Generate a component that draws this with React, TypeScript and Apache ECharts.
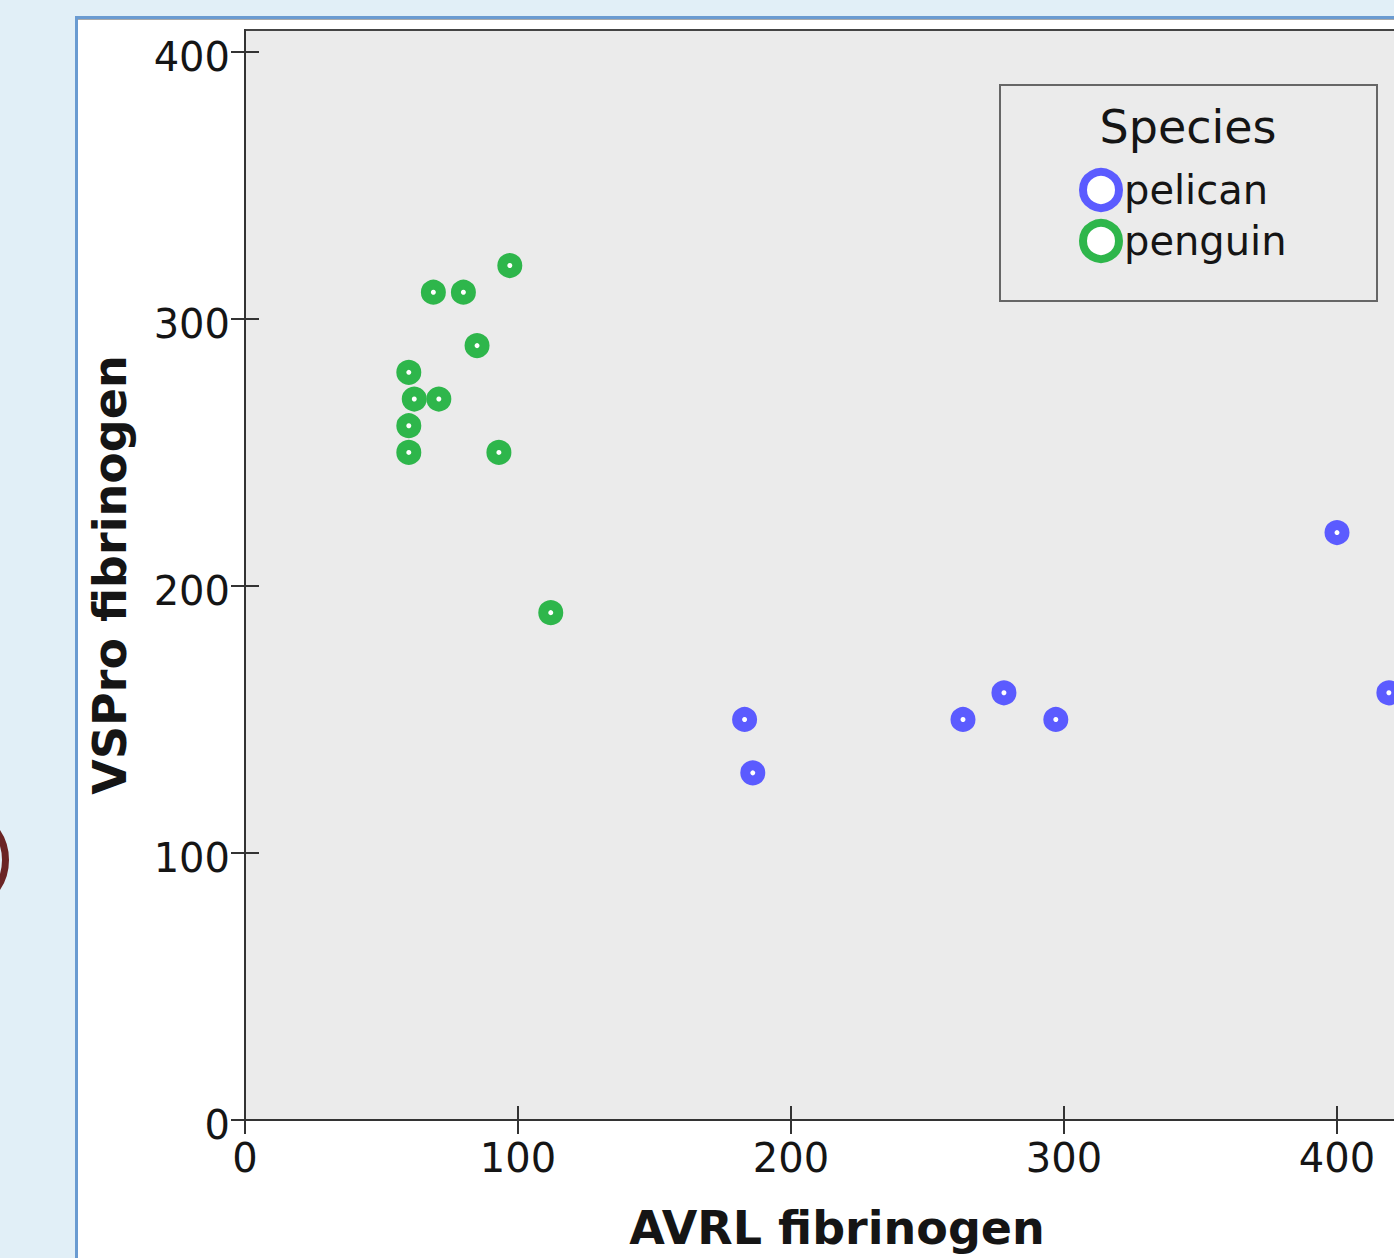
import React, { useEffect, useRef } from 'react';
import * as echarts from 'echarts';

const xTickValues = [0, 100, 200, 300, 400];
const yTickValues = [0, 100, 200, 300, 400];
const seriesNames = ['pelican', 'penguin'];
const pelicanAVRL = [183, 186, 263, 278, 297, 400, 419];
const pelicanVSPro = [150, 130, 150, 160, 150, 220, 160];
const penguinAVRL = [97, 69, 80, 85, 60, 62, 71, 60, 60, 93, 112];
const penguinVSPro = [320, 310, 310, 290, 280, 270, 270, 260, 250, 250, 190];

const BLUE = '#5b5bff';
const GREEN = '#2eb64b';
const FONT = 'DejaVu Sans';
const INK = '#151515';

export default function App() {
  const ref = useRef<HTMLDivElement>(null);
  useEffect(() => {
    if (!ref.current) return;
    const chart = echarts.init(ref.current, null, { renderer: 'svg' });
    const pelicanData = pelicanAVRL.map((x, i) => [x, pelicanVSPro[i]]);
    const penguinData = penguinAVRL.map((x, i) => [x, penguinVSPro[i]]);
    const axisLineStyle = { color: '#333', width: 2 };
    const xBase = {
      type: 'value' as const,
      min: 0,
      max: 433.7,
      splitLine: { show: false },
    };
    const yBase = {
      type: 'value' as const,
      min: 0,
      max: 408.2,
      splitLine: { show: false },
    };
    chart.setOption({
      animation: false,
      backgroundColor: 'transparent',
      grid: {
        left: 245,
        top: 30,
        width: 1184,
        height: 1090,
        show: true,
        backgroundColor: '#ebebeb',
        borderColor: '#444',
        borderWidth: 2,
      },
      xAxis: [
        {
          ...xBase,
          position: 'bottom',
          name: 'AVRL fibrinogen',
          nameLocation: 'middle',
          nameGap: 85,
          nameTextStyle: { fontSize: 46, fontWeight: 'bold', fontFamily: FONT, color: INK },
          axisLine: { show: true, lineStyle: axisLineStyle },
          axisTick: { show: true, inside: false, length: 14, lineStyle: axisLineStyle, customValues: xTickValues },
          axisLabel: { show: true, margin: 18, fontSize: 40, fontFamily: FONT, color: INK, customValues: xTickValues },
        },
        {
          ...xBase,
          position: 'bottom',
          axisLine: { show: false },
          axisTick: { show: true, inside: true, length: 14, lineStyle: axisLineStyle, customValues: xTickValues },
          axisLabel: { show: false },
        },
      ],
      yAxis: [
        {
          ...yBase,
          position: 'left',
          name: 'VSPro fibrinogen',
          nameLocation: 'middle',
          nameGap: 112,
          nameRotate: 90,
          nameTextStyle: { fontSize: 46, fontWeight: 'bold', fontFamily: FONT, color: INK },
          axisLine: { show: true, lineStyle: axisLineStyle },
          axisTick: { show: true, inside: false, length: 14, lineStyle: axisLineStyle, customValues: yTickValues },
          axisLabel: {
            show: true,
            margin: 15,
            fontSize: 40,
            fontFamily: FONT,
            color: INK,
            verticalAlign: 'top',
            lineHeight: 30,
            padding: [-10, 0, 0, 0],
            customValues: yTickValues,
          },
        },
        {
          ...yBase,
          position: 'left',
          axisLine: { show: false },
          axisTick: { show: true, inside: true, length: 14, lineStyle: axisLineStyle, customValues: yTickValues },
          axisLabel: { show: false },
        },
      ],
      legend: {
        orient: 'vertical',
        left: 1079,
        top: 168,
        padding: 0,
        itemWidth: 36,
        itemHeight: 36,
        itemGap: 7,
        icon: 'circle',
        textStyle: { fontSize: 40, fontFamily: FONT, color: INK, lineHeight: 36, padding: [0, 0, 0, 0] },
        data: [
          { name: seriesNames[0], itemStyle: { color: '#fff', borderColor: BLUE, borderWidth: 8 } },
          { name: seriesNames[1], itemStyle: { color: '#fff', borderColor: GREEN, borderWidth: 8 } },
        ],
      },
      graphic: [
        {
          type: 'rect',
          shape: { x: 1000, y: 85, width: 377, height: 216 },
          style: { fill: 'none', stroke: '#666', lineWidth: 2 },
          z: 100,
        },
        {
          type: 'text',
          x: 1188,
          y: 127,
          style: {
            text: 'Species',
            fontSize: 46,
            fontFamily: FONT,
            fill: INK,
            textAlign: 'center',
            textVerticalAlign: 'middle',
          },
          z: 100,
        },
      ],
      series: [
        {
          name: seriesNames[0],
          type: 'scatter',
          xAxisIndex: 0,
          yAxisIndex: 0,
          symbol: 'circle',
          symbolSize: 15,
          itemStyle: { color: '#fff', borderColor: BLUE, borderWidth: 10, opacity: 1 },
          data: pelicanData,
        },
        {
          name: seriesNames[1],
          type: 'scatter',
          xAxisIndex: 0,
          yAxisIndex: 0,
          symbol: 'circle',
          symbolSize: 15,
          itemStyle: { color: '#fff', borderColor: GREEN, borderWidth: 10, opacity: 1 },
          data: penguinData,
        },
      ],
    });
    return () => chart.dispose();
  }, []);

  return (
    <div
      style={{
        position: 'absolute',
        left: 0,
        top: 0,
        width: 1394,
        height: 1258,
        overflow: 'hidden',
        background: '#e1eff7',
      }}
    >
      <div
        style={{
          position: 'absolute',
          left: -99,
          top: 806,
          width: 94,
          height: 94,
          borderRadius: '50%',
          border: '7px solid #6b2424',
          boxSizing: 'content-box',
        }}
      />
      <div
        style={{
          position: 'absolute',
          left: 75,
          top: 16,
          width: 1500,
          height: 1400,
          background: '#ffffff',
          borderLeft: '3px solid #6a9bd1',
          borderTop: '3px solid #6a9bd1',
          boxShadow: 'inset 0 1px 0 #aaaaaa',
        }}
      />
      <div ref={ref} style={{ position: 'absolute', left: 0, top: 0, width: 1500, height: 1258 }} />
    </div>
  );
}
